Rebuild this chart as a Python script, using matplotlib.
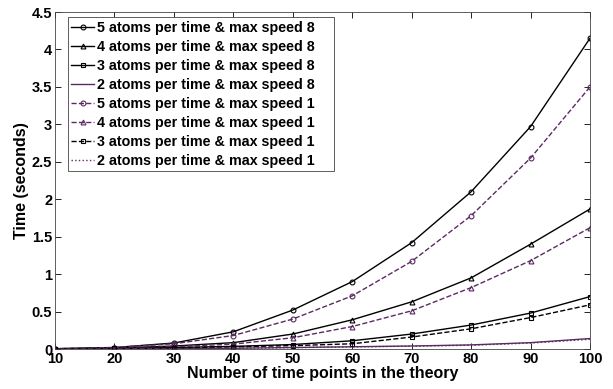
import matplotlib
matplotlib.use("Agg")
import matplotlib.pyplot as plt

x = [10, 20, 30, 40, 50, 60, 70, 80, 90, 100]

a5_s8 = [0.005, 0.02, 0.08, 0.23, 0.52, 0.90, 1.42, 2.10, 2.97, 4.15]
a4_s8 = [0.003, 0.012, 0.04, 0.085, 0.20, 0.39, 0.63, 0.95, 1.40, 1.87]
a3_s8 = [0.002, 0.008, 0.02, 0.035, 0.06, 0.11, 0.20, 0.32, 0.48, 0.70]
a2_s8 = [0.001, 0.003, 0.006, 0.01, 0.02, 0.03, 0.04, 0.055, 0.085, 0.14]
a5_s1 = [0.004, 0.02, 0.07, 0.18, 0.40, 0.71, 1.17, 1.78, 2.55, 3.50]
a4_s1 = [0.003, 0.01, 0.03, 0.065, 0.15, 0.30, 0.51, 0.82, 1.18, 1.62]
a3_s1 = [0.002, 0.007, 0.015, 0.03, 0.045, 0.07, 0.16, 0.27, 0.42, 0.59]
a2_s1 = [0.001, 0.003, 0.005, 0.009, 0.018, 0.028, 0.038, 0.05, 0.08, 0.13]

labels = [
    "5 atoms per time & max speed 8",
    "4 atoms per time & max speed 8",
    "3 atoms per time & max speed 8",
    "2 atoms per time & max speed 8",
    "5 atoms per time & max speed 1",
    "4 atoms per time & max speed 1",
    "3 atoms per time & max speed 1",
    "2 atoms per time & max speed 1",
]

plt.rcParams.update({
    "font.family": "Liberation Sans",
    "font.weight": "bold",
    "font.size": 10.5,
})

PUR = "#5b2a62"
fig = plt.figure(figsize=(6.13, 3.89), dpi=100)
ax = fig.add_axes([0.0897, 0.1028, 0.8728, 0.8663])

# trailing pad mimics the wide MATLAB legend box
lab = [s + "\u00a0" * 4 for s in labels]

kw = dict(lw=1.0, ms=3.5, mfc="none", mew=0.8)
ax.plot(x, a5_s8, "-", marker="o", color="black", label=lab[0], **kw)
ax.plot(x, a4_s8, "-", marker="^", color="black", label=lab[1], **kw)
ax.plot(x, a3_s8, "-", marker="s", color="black", label=lab[2], **kw)
ax.plot(x, a2_s8, "-", color=PUR, lw=1.0, label=lab[3])
ax.plot(x, a5_s1, "--", marker="o", color=PUR, label=lab[4], **kw)
ax.plot(x, a4_s1, "--", marker="^", color=PUR, label=lab[5], **kw)
ax.plot(x, a3_s1, "--", marker="s", color="black", label=lab[6], **kw)
ax.plot(x, a2_s1, ":", color=PUR, lw=1.0, label=lab[7])

ax.set_xlim(10, 100)
ax.set_ylim(0, 4.5)
ax.set_xticks(x)
ax.set_yticks([0, 0.5, 1, 1.5, 2, 2.5, 3, 3.5, 4, 4.5])
ax.set_yticklabels(["0", "0.5", "1", "1.5", "2", "2.5", "3", "3.5", "4", "4.5"])
ax.tick_params(direction="in", top=True, right=True, length=4, width=0.6, pad=2)
for s in ax.spines.values():
    s.set_linewidth(0.6)
    s.set_color("#444444")
ax.set_xlabel("Number of time points in the theory", fontweight="bold",
              fontsize=11.5, labelpad=0)
ax.set_ylabel("Time (seconds)", fontweight="bold", fontsize=11.5, labelpad=2)

leg = ax.legend(loc="upper left", bbox_to_anchor=(0.024, 0.985), fancybox=False,
                edgecolor="#444444", framealpha=1, borderpad=0.25, labelspacing=0.35,
                handlelength=1.6, handletextpad=0.2, borderaxespad=0,
                fontsize=10.3, markerscale=1.0)
leg.get_frame().set_linewidth(0.6)

fig.savefig("out.png", dpi=100)
